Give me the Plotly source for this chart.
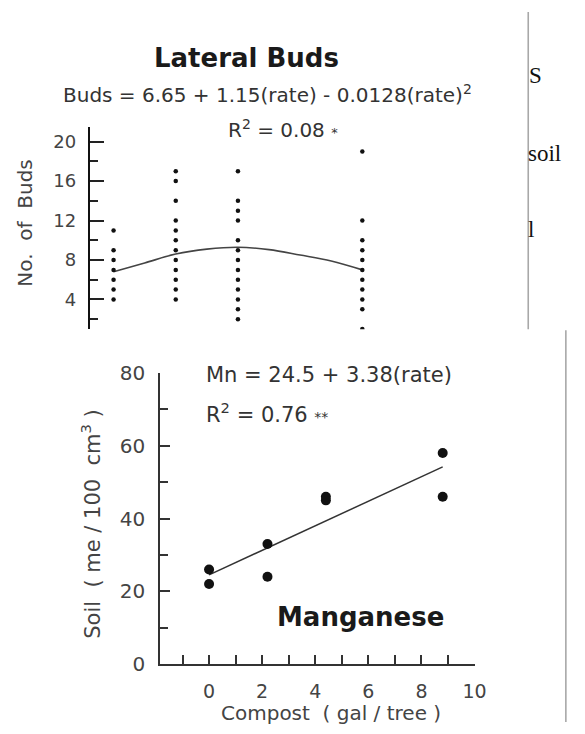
import plotly.graph_objects as go

W, H = 585, 734

# ---------------- data: Lateral Buds (top panel) ----------------
bud_rates = [0, 2.2, 4.4, 8.8]
buds_rate0 = [4, 5, 6, 7, 8, 9, 11]
buds_rate22 = [4, 5, 6, 7, 8, 9, 10, 11, 12, 14, 16, 17]
buds_rate44 = [2, 3, 4, 5, 6, 7, 8, 9, 10, 12, 13, 14, 17]
buds_rate88 = [1, 3, 4, 5, 6, 7, 8, 9, 10, 12, 19]
buds_curve_x = [0, 1.1, 2.2, 3.3, 4.4, 5.5, 6.6, 7.7, 8.8]
buds_curve_y = [6.8, 7.7, 8.6, 9.1, 9.3, 9.05, 8.5, 7.9, 7.0]
buds_yticks = [4, 8, 12, 16, 20]
buds_yminor = [2, 6, 10, 14, 18, 21.5]

# ---------------- data: Manganese (bottom panel) ----------------
mn_rate = [0, 0, 2.2, 2.2, 4.4, 4.4, 8.8, 8.8]
mn_soil = [26, 22, 33, 24, 45, 46, 58, 46]
mn_fit_x = [0, 8.8]
mn_fit_y = [24.5, 54.2]
mn_yticks = [0, 20, 40, 60, 80]
mn_yminor = [10, 30, 50, 70]
mn_xticks = [0, 2, 4, 6, 8, 10]
mn_xminor = [-1, 1, 3, 5, 7, 9]


def px(x):
    return x / W


def py(y):
    return 1 - y / H


bud_cols = [buds_rate0, buds_rate22, buds_rate44, buds_rate88]
bx, by = [], []
for r, col in zip(bud_rates, bud_cols):
    for v in col:
        bx.append(r)
        by.append(v)

FONT = "DejaVu Sans"
fig = go.Figure()

fig.add_trace(go.Scatter(x=buds_curve_x, y=buds_curve_y, mode="lines",
                         line=dict(color="#444", width=1.6, shape="spline"),
                         xaxis="x", yaxis="y", hoverinfo="skip"))
fig.add_trace(go.Scatter(x=bx, y=by, mode="markers",
                         marker=dict(color="#111", size=4.5),
                         xaxis="x", yaxis="y"))

fig.add_trace(go.Scatter(x=mn_fit_x, y=mn_fit_y, mode="lines",
                         line=dict(color="#333", width=1.5),
                         xaxis="x2", yaxis="y2", hoverinfo="skip"))
fig.add_trace(go.Scatter(x=mn_rate, y=mn_soil, mode="markers",
                         marker=dict(color="#111", size=10),
                         xaxis="x2", yaxis="y2"))

# top panel axes
x0t, x1t = 91.7, 539.0
ppu_t = 28.86
xr_t0 = -0.84
xr_t1 = xr_t0 + (x1t - x0t) / ppu_t
fig.update_layout(
    xaxis=dict(domain=[px(x0t), px(x1t)], range=[xr_t0, xr_t1], visible=False),
    yaxis=dict(domain=[py(328), py(119)], range=[0.98, 21.47],
               anchor="x", showline=True, linecolor="#111", linewidth=2.2,
               showgrid=False, zeroline=False,
               tickmode="array", tickvals=buds_yticks,
               ticks="inside", ticklen=14, tickwidth=1.6, tickcolor="#222",
               ticklabelstandoff=8,
               tickfont=dict(family=FONT, size=18, color="#444"),
               minor=dict(tickvals=buds_yminor, ticks="inside", ticklen=8,
                          tickwidth=1.6, tickcolor="#222", showgrid=False)),
    xaxis2=dict(domain=[px(163.3), px(484.5)], range=[-1.85, 10],
                anchor="y2", showline=True, linecolor="#333", linewidth=1.5,
                showgrid=False, zeroline=False,
                tickmode="array", tickvals=mn_xticks,
                ticks="inside", ticklen=9, tickwidth=1.5, tickcolor="#333",
                ticklabelstandoff=9,
                tickfont=dict(family=FONT, size=19, color="#444"),
                minor=dict(tickvals=mn_xminor, ticks="inside", ticklen=9,
                           tickwidth=1.5, tickcolor="#333", showgrid=False)),
    yaxis2=dict(domain=[py(674), py(373.3)], range=[0, 80],
                anchor="x2", showline=True, linecolor="#333", linewidth=1.5,
                showgrid=False, zeroline=False,
                tickmode="array", tickvals=mn_yticks,
                ticks="inside", ticklen=10, tickwidth=1.5, tickcolor="#333",
                ticklabelstandoff=9,
                tickfont=dict(family=FONT, size=20, color="#444"),
                minor=dict(tickvals=mn_yminor, ticks="inside", ticklen=8,
                           tickwidth=1.5, tickcolor="#333", showgrid=False)),
)

ann = []


def text(t, x, y, size, xanchor="left", bold=False, color="#333",
         family=FONT, angle=0):
    ann.append(dict(text=("<b>%s</b>" % t) if bold else t, x=px(x), y=py(y),
                    xref="paper", yref="paper", xanchor=xanchor,
                    yanchor="middle", showarrow=False, textangle=angle,
                    font=dict(family=family, size=size, color=color)))


text("Lateral Buds", 252, 47.3, 26, xanchor="center", bold=True, color="#1a1a1a")
text("Buds = 6.65 + 1.15(rate) - 0.0128(rate)<sup>2</sup>", 62, 85, 20)
text("R<sup>2</sup> = 0.08 <span style='font-size:13px'>*</span>", 231, 121, 20)
text("No.  of  Buds", 26, 218.3, 20, xanchor="center", angle=-90, color="#444")

text("Mn = 24.5 + 3.38(rate)", 208, 375.4, 21)
text("R<sup>2</sup> = 0.76 <span style='font-size:14px'>**</span>", 208, 414.4, 21)
text("Manganese", 281, 625.6, 26, bold=True, color="#1a1a1a")
text("Compost  ( gal / tree )", 338, 725, 20, xanchor="center", color="#444")
text("Soil  ( me / 100  cm<sup>3</sup> )", 93, 529, 21, xanchor="center",
     angle=-90, color="#444")

SERIF = "Liberation Serif"
text("S", 538, 66, 23, family=SERIF, color="#111")
text("soil", 537, 146, 23, family=SERIF, color="#111")
text("l", 537, 225, 23, family=SERIF, color="#111")

shapes = [
    dict(type="line", xref="paper", yref="paper", x0=px(539.3), x1=px(539.3),
         y0=py(0), y1=py(328), line=dict(color="#a8a8a8", width=1.6)),
    dict(type="line", xref="paper", yref="paper", x0=px(577.7), x1=px(577.7),
         y0=py(329), y1=py(734), line=dict(color="#a8a8a8", width=1.6)),
]

fig.update_layout(width=W, height=H, margin=dict(l=0, r=0, t=0, b=0),
                  paper_bgcolor="white", plot_bgcolor="rgba(0,0,0,0)",
                  showlegend=False, annotations=ann, shapes=shapes)

fig.write_html("out.html")
